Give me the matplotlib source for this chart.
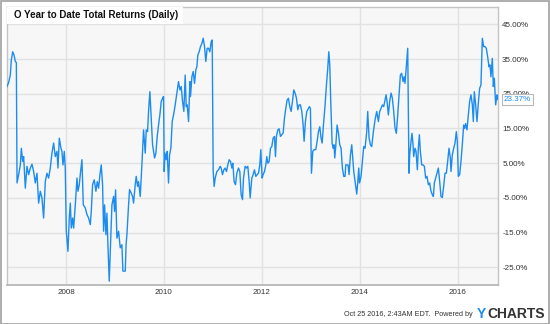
import matplotlib
matplotlib.use("Agg")
import matplotlib.pyplot as plt
from matplotlib.patches import Rectangle

plt.rcParams['font.family'] = ['Liberation Sans', 'DejaVu Sans']

# ---- data: O year-to-date total return (%), dates as decimal years ----
dates_2006 = [2006.797, 2006.829, 2006.863, 2006.883, 2006.911, 2006.938, 2006.965, 2006.986]
ytd_2006 = [27.1, 28.3, 30.4, 34.7, 37.1, 36.2, 34.3, 34.0]

dates_2007 = [2007.000, 2007.033, 2007.067, 2007.088, 2007.115, 2007.135, 2007.169, 2007.203,
              2007.237, 2007.271, 2007.305, 2007.339, 2007.373, 2007.407, 2007.441, 2007.475,
              2007.509, 2007.543, 2007.577, 2007.611, 2007.645, 2007.679, 2007.713, 2007.747,
              2007.781, 2007.815, 2007.836, 2007.863, 2007.897, 2007.917, 2007.938, 2007.965,
              2007.985]
ytd_2007 = [-0.7, 1.7, 4.5, 9.3, 5.5, 6.9, -2.2, 4.1,
            1.7, 3.6, 4.7, 2.6, -0.7, 2.1, -6.5, -3.1,
            -5.0, -10.8, -0.3, 2.1, 0.7, 3.6, 7.9, 10.8,
            6.9, 8.4, 3.6, 12.2, 9.3, 8.4, 4.5, 8.4,
            3.5]

dates_2008 = [2008.006, 2008.040, 2008.067, 2008.088, 2008.108, 2008.135, 2008.156, 2008.190,
              2008.224, 2008.244, 2008.271, 2008.298, 2008.326, 2008.353, 2008.394, 2008.428,
              2008.462, 2008.496, 2008.516, 2008.543, 2008.577, 2008.611, 2008.639, 2008.666,
              2008.693, 2008.720, 2008.747, 2008.768, 2008.788, 2008.815, 2008.836, 2008.856,
              2008.883, 2008.911, 2008.938, 2008.972, 2008.992]
ytd_2008 = [-14.6, -20.4, -10.8, -6.5, -13.7, -10.8, -13.7, -7.0,
            0.7, -3.1, -1.2, 2.6, 6.0, -7.0, -7.9, -9.8,
            -10.8, -12.7, -8.9, -1.2, 0.2, -3.1, -0.3, -2.2,
            1.7, 4.5, -1.2, -14.6, -7.0, -15.6, -9.4, -18.5,
            -29.0, -17.5, -7.0, -4.6, -8.9]

dates_2009 = [2009.013, 2009.040, 2009.074, 2009.108, 2009.142, 2009.162, 2009.196, 2009.210,
              2009.227, 2009.244, 2009.278, 2009.298, 2009.332, 2009.360, 2009.380, 2009.414,
              2009.434, 2009.462, 2009.482, 2009.516, 2009.550, 2009.584, 2009.618, 2009.639,
              2009.666, 2009.686, 2009.713, 2009.741, 2009.768, 2009.809, 2009.836, 2009.863,
              2009.890, 2009.917, 2009.945, 2009.972, 2009.992]
ytd_2009 = [-2.7, -16.6, -14.6, -19.4, -18.5, -26.1, -26.1, -26.1,
            -18.5, -15.6, -7.0, -2.6, -3.6, -4.6, -6.5, -1.2,
            1.2, -1.7, -0.3, -4.6, 4.5, 14.6, 7.9, 14.6,
            14.1, 19.9, 25.6, 18.0, 10.3, 6.5, 7.9, 12.7,
            16.0, 18.9, 22.8, 23.7, 24.2]

dates_2010 = [2010.006, 2010.020, 2010.047, 2010.067, 2010.094, 2010.115, 2010.142, 2010.169,
              2010.203, 2010.230, 2010.264, 2010.298, 2010.326, 2010.353, 2010.380, 2010.407,
              2010.434, 2010.455, 2010.475, 2010.503, 2010.530, 2010.543, 2010.571, 2010.598,
              2010.625, 2010.652, 2010.673, 2010.693, 2010.720, 2010.747, 2010.775, 2010.802,
              2010.829, 2010.856, 2010.883, 2010.911, 2010.938, 2010.965, 2010.986]
ytd_2010 = [2.6, 7.9, 6.0, 8.4, -0.7, 7.4, 9.3, 17.0,
            19.4, 21.8, 25.2, 28.5, 26.1, 27.1, 22.8, 19.9,
            30.4, 21.3, 21.8, 17.0, 28.5, 24.2, 29.9, 31.4,
            28.0, 31.9, 32.8, 36.2, 37.1, 38.6, 39.5, 41.0,
            38.6, 34.3, 38.1, 38.1, 37.1, 40.0, 40.5]

dates_2011 = [2011.006, 2011.026, 2011.047, 2011.081, 2011.115, 2011.149, 2011.169, 2011.196,
              2011.224, 2011.251, 2011.278, 2011.305, 2011.332, 2011.360, 2011.387, 2011.407,
              2011.434, 2011.462, 2011.489, 2011.523, 2011.550, 2011.577, 2011.605, 2011.625,
              2011.659, 2011.686, 2011.713, 2011.741, 2011.761, 2011.795, 2011.822, 2011.849,
              2011.877, 2011.904, 2011.931, 2011.958, 2011.979]
ytd_2011 = [2.6, -1.7, 0.7, 2.6, 3.1, 4.1, 3.6, 1.7,
            3.1, 3.6, 2.6, 4.5, 6.0, 5.5, 3.6, 5.0,
            -0.3, -1.2, 2.1, 3.6, 2.6, -4.1, -5.5, 0.7,
            4.1, 3.6, 4.1, -0.3, -5.0, 0.7, 1.7, 3.1,
            1.2, 1.7, 2.1, 4.5, 8.9]

dates_2012 = [2012.005, 2012.026, 2012.054, 2012.081, 2012.101, 2012.122, 2012.149, 2012.176,
              2012.203, 2012.230, 2012.258, 2012.278, 2012.298, 2012.326, 2012.353, 2012.380,
              2012.407, 2012.435, 2012.462, 2012.489, 2012.516, 2012.543, 2012.571, 2012.598,
              2012.625, 2012.652, 2012.679, 2012.707, 2012.734, 2012.761, 2012.788, 2012.816,
              2012.843, 2012.863, 2012.890, 2012.918, 2012.952, 2012.972, 2012.992]
ytd_2012 = [0.7, 1.7, 2.6, 4.5, 6.9, 5.0, 5.5, 9.3,
            9.8, 12.2, 12.7, 6.9, 12.7, 14.6, 14.9, 12.7,
            13.2, 13.7, 18.0, 20.8, 23.2, 23.7, 21.3, 19.9,
            22.8, 26.1, 25.2, 23.7, 20.4, 21.8, 21.8, 19.9,
            16.0, 11.3, 17.0, 19.9, 20.8, 21.3, 20.8]

dates_2013 = [2013.013, 2013.040, 2013.067, 2013.101, 2013.129, 2013.156, 2013.183, 2013.210,
              2013.231, 2013.258, 2013.292, 2013.319, 2013.346, 2013.367, 2013.387, 2013.407,
              2013.435, 2013.455, 2013.475, 2013.489, 2013.509, 2013.537, 2013.564, 2013.591,
              2013.618, 2013.645, 2013.673, 2013.700, 2013.713, 2013.734, 2013.761, 2013.781,
              2013.809, 2013.836, 2013.856, 2013.877, 2013.904, 2013.938, 2013.958, 2013.979,
              2013.995]
ytd_2013 = [2.1, 8.4, 8.9, 8.9, 11.3, 14.1, 15.5, 12.2,
            10.8, 16.0, 21.8, 27.5, 32.3, 37.1, 33.3, 22.8,
            10.8, 9.3, 10.3, 6.5, 9.8, 16.0, 13.7, 10.3,
            9.3, 3.6, 1.2, 1.2, 4.5, 4.5, 4.5, 1.7,
            7.4, 10.3, 6.5, 2.6, -0.3, -3.9, -0.7, 3.6,
            -0.7]

dates_2014 = [2014.026, 2014.054, 2014.081, 2014.108, 2014.142, 2014.162, 2014.190, 2014.217,
              2014.244, 2014.278, 2014.312, 2014.346, 2014.380, 2014.407, 2014.435, 2014.462,
              2014.489, 2014.516, 2014.537, 2014.557, 2014.584, 2014.611, 2014.639, 2014.666,
              2014.693, 2014.720, 2014.747, 2014.775, 2014.802, 2014.829, 2014.856, 2014.884,
              2014.904, 2014.924, 2014.952, 2014.979]
ytd_2014 = [1.2, 5.5, 9.8, 9.3, 14.1, 19.9, 12.2, 10.3,
            9.8, 14.1, 17.5, 19.9, 17.0, 19.9, 20.8, 21.8,
            21.3, 23.2, 24.7, 22.8, 18.9, 22.8, 25.2, 23.7,
            19.9, 15.1, 13.6, 18.9, 24.7, 30.4, 30.9, 28.5,
            29.9, 28.0, 33.3, 38.1]

dates_2015 = [2015.005, 2015.020, 2015.047, 2015.067, 2015.088, 2015.101, 2015.128, 2015.149,
              2015.176, 2015.196, 2015.217, 2015.237, 2015.265, 2015.292, 2015.319, 2015.346,
              2015.373, 2015.401, 2015.428, 2015.455, 2015.482, 2015.503, 2015.523, 2015.550,
              2015.577, 2015.605, 2015.632, 2015.659, 2015.686, 2015.713, 2015.741, 2015.768,
              2015.795, 2015.822, 2015.850, 2015.863, 2015.890, 2015.918, 2015.945, 2015.972,
              2015.992]
ytd_2015 = [2.1, 7.4, 11.3, 13.6, 10.3, 6.9, 9.3, 8.4,
            3.1, 9.3, 13.2, 8.4, 4.5, 4.5, 4.1, 0.7,
            1.2, -1.2, -0.7, -3.1, -4.1, -4.6, -0.7, 0.7,
            2.1, 3.6, -0.3, -4.6, -4.9, -1.7, 2.1, 2.1,
            5.5, 9.3, 6.5, 2.6, 7.4, 9.3, 10.8, 14.1,
            11.3]

dates_2016 = [2016.013, 2016.040, 2016.067, 2016.094, 2016.122, 2016.142, 2016.162, 2016.190,
              2016.217, 2016.244, 2016.271, 2016.299, 2016.319, 2016.339, 2016.367, 2016.394,
              2016.421, 2016.448, 2016.475, 2016.503, 2016.530, 2016.557, 2016.584, 2016.611,
              2016.639, 2016.659, 2016.679, 2016.707, 2016.727, 2016.748, 2016.775, 2016.802,
              2016.815]
ytd_2016 = [1.2, 1.7, 5.5, 10.3, 16.0, 15.0, 16.4, 14.6,
            18.9, 22.8, 24.7, 21.8, 17.0, 25.6, 21.8, 17.0,
            22.3, 26.6, 27.5, 41.0, 38.6, 38.6, 38.1, 35.7,
            32.8, 33.3, 29.9, 35.2, 27.1, 29.5, 21.8, 24.7,
            23.37]

dates = (dates_2006 + dates_2007 + dates_2008 + dates_2009 + dates_2010 + dates_2011
         + dates_2012 + dates_2013 + dates_2014 + dates_2015 + dates_2016)
values = (ytd_2006 + ytd_2007 + ytd_2008 + ytd_2009 + ytd_2010 + ytd_2011
          + ytd_2012 + ytd_2013 + ytd_2014 + ytd_2015 + ytd_2016)

x_ticks = [2008, 2010, 2012, 2014, 2016]
x_tick_labels = ["2008", "2010", "2012", "2014", "2016"]
y_ticks = [45, 35, 25, 15, 5, -5, -15, -25]
y_tick_labels = ["45.00%", "35.00%", "25.00%", "15.00%", "5.00%", "-5.00%", "-15.0%", "-25.0%"]
last_label = "23.37%"
title = "O Year to Date Total Returns (Daily)"
footer = "Oct 25 2016, 2:43AM EDT.  Powered by "

LINE = "#1c8cf0"
W, H = 550, 324

fig = plt.figure(figsize=(W / 100, H / 100), dpi=100)
fig.patch.set_facecolor("white")

ax = fig.add_axes([7 / W, 1 - 285 / H, 491 / W, 278 / H])
ax.set_facecolor("#f7f7f7")
ax.plot(dates, values, color=LINE, lw=1.0, solid_joinstyle="round", zorder=3)

ax.set_xlim(2006.795, 2016.823)
ax.set_ylim(-30.1, 50.0)
ax.set_xticks(x_ticks)
ax.set_xticklabels(x_tick_labels)
ax.set_yticks(y_ticks)
ax.set_yticklabels(y_tick_labels)
ax.yaxis.tick_right()
ax.tick_params(axis="both", length=0, labelsize=5.8, colors="#333333")
ax.tick_params(axis="y", pad=3)
ax.tick_params(axis="x", pad=3)
ax.grid(True, color="#e2e2e2", lw=1.0, zorder=0)
ax.set_axisbelow(True)
for s in ["top", "right", "left"]:
    ax.spines[s].set_color("#c4c4c4")
    ax.spines[s].set_linewidth(1.0)
ax.spines["bottom"].set_color("#b8b8b8")
ax.spines["bottom"].set_linewidth(1.3)

# title box
fig.patches.append(Rectangle((7 / W, 1 - 24 / H), 176 / W, 17 / H, transform=fig.transFigure,
                             facecolor="white", edgecolor="none", zorder=5))
fig.text(14 / W, 1 - 15.5 / H, title, fontsize=7, fontweight="bold", color="#111111",
         va="center", ha="left", zorder=6)

# last value label
ax.annotate(last_label, xy=(1.0, values[-1]), xycoords=("axes fraction", "data"),
            xytext=(4, 0), textcoords="offset points", fontsize=5.8, color=LINE,
            va="center", ha="left", annotation_clip=False, zorder=10,
            bbox=dict(boxstyle="square,pad=0.25", facecolor="white", edgecolor="#b8b8b8", lw=0.8))

# footer
fig.text(475 / W, 1 - 314 / H, footer, fontsize=5.2, color="#333333", ha="right", va="center")
fig.text(477 / W, 1 - 314 / H, "Y", fontsize=10, fontweight="bold", color="#1c8cf0",
         ha="left", va="center")
fig.text(487 / W, 1 - 314 / H, "CHARTS", fontsize=10, fontweight="bold", color="#333333",
         ha="left", va="center")

# outer border
fig.patches.append(Rectangle((0.5 / W, 0.5 / H), 1 - 1.5 / W, 1 - 1.5 / H,
                             transform=fig.transFigure, facecolor="none",
                             edgecolor="#a0a0a0", lw=1.2, zorder=20))

fig.savefig("out.png", dpi=100, facecolor="white")
